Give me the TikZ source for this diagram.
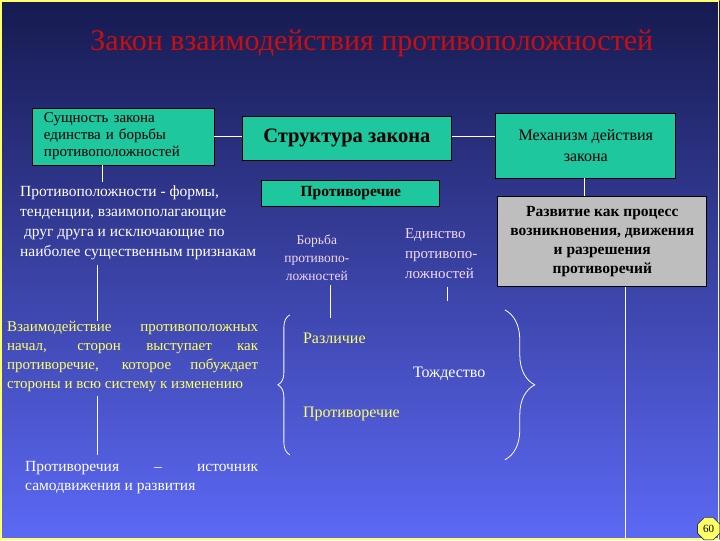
\documentclass[tikz,border=0pt]{standalone}
\usepackage{fontspec}
\setmainfont{Liberation Serif}
\usetikzlibrary{decorations.pathreplacing,shapes.geometric}
\definecolor{teal1}{HTML}{1FC79E}
\definecolor{grayb}{HTML}{BEBEBE}
\definecolor{ylw}{HTML}{FFFF66}
\definecolor{pinkw}{HTML}{F4D8F4}
\begin{document}
\begin{tikzpicture}[x=1pt,y=-1pt,
  box/.style={draw=black,fill=teal1,line width=0.8pt,inner sep=2pt},
  conn/.style={draw=white,line width=0.8pt},
  wt/.style={text=white,font=\fontsize{13}{19}\selectfont,align=left,inner sep=0},
  yt/.style={text=ylw,font=\fontsize{16}{19}\selectfont,inner sep=0}]
\shade[top color={rgb,255:red,22;green,26;blue,80},bottom color={rgb,255:red,92;green,105;blue,245}] (0,0) rectangle (720,540);
\draw[ylw,line width=1.5pt] (1,1) rectangle (719,539);
\node[text={rgb,255:red,200;green,15;blue,15},font=\fontsize{30}{34}\selectfont] (title) at (372,43) {Закон взаимодействия противоположностей};
\node[box,minimum width=182,minimum height=57,font=\fontsize{15}{17}\selectfont,align=left,text width=178,inner sep=1pt] (b1) at (123,136.5) {\hspace*{10pt}Сущность закона\\\hspace*{10pt}единства и борьбы\\\hspace*{10pt}противоположностей};
\node[box,minimum width=210,minimum height=44,font=\bfseries\fontsize{20.5}{22}\selectfont] (b2) at (347,138) {Структура закона};
\node[box,minimum width=180,minimum height=65,font=\fontsize{16}{21}\selectfont,align=center] (b3) at (586,145.5) {Механизм действия\\закона};
\node[box,minimum width=178,minimum height=26,font=\bfseries\fontsize{15.5}{17}\selectfont] (b4) at (351,193) {Противоречие};
\node[box,fill=grayb,minimum width=209,minimum height=91,font=\bfseries\fontsize{15.5}{19}\selectfont,align=center] (g) at (602.5,241.5) {Развитие как процесс\\возникновения, движения\\и разрешения\\противоречий};
\node[wt,anchor=north west,font=\fontsize{15.5}{20}\selectfont] (t1) at (20,186) {Противоположности - формы,\\тенденции, взаимополагающие\\\ друг друга и исключающие по\\наиболее существенным признакам};
\node[text=pinkw,font=\fontsize{13.5}{18}\selectfont,align=center,inner sep=0] (bor) at (317,258) {Борьба\\противопо-\\ложностей};
\node[text=pinkw,font=\fontsize{15}{20}\selectfont,align=left,inner sep=0,anchor=north west] (ed) at (405,229) {Единство\\противопо-\\ложностей};
\node[yt,anchor=north west,text width=251,align=justify,font=\fontsize{15}{19}\selectfont] (vz) at (7,321) {Взаимодействие противоположных начал, сторон выступает как противоречие, которое побуждает стороны и всю систему к изменению};
\node[yt,anchor=west] (raz) at (303,338) {Различие};
\node[text=white,font=\fontsize{16}{18}\selectfont,anchor=west,inner sep=0] (tozh) at (413,374) {Тождество};
\node[yt,anchor=west] (pr) at (303,414) {Противоречие};
\node[wt,anchor=north west,text width=233,align=justify,font=\fontsize{15.5}{19}\selectfont] (ist) at (25,461) {Противоречия~~~~~–~~~~~источник самодвижения и развития};
\node[regular polygon,regular polygon sides=8,fill=ylw,draw=black,inner sep=0,minimum size=24,font=\fontsize{11}{12}\selectfont] (pg) at (709,529) {60};
\path[conn] (b1.east|-0,136) -- (b2.west|-0,136);
\path[conn] (b2.east|-0,136) -- (b3.west|-0,136);
\path[conn] (102,165) -- (102,182);
\path[conn] (585,178) -- (g.north-|585,0);
\path[conn] (626,287) -- (626,540);
\path[conn] (97,265) -- (97,321);
\path[conn] (97,396) -- (97,455);
\path[conn] (331,285) -- (331,318);
\path[conn] (448,287) -- (448,301);
\draw[white,line width=0.8pt,decorate,decoration={brace,amplitude=12pt}] (290,455) -- (290,315);
\draw[white,line width=0.8pt,decorate,decoration={brace,amplitude=30pt}] (505,310) -- (505,460);
\end{tikzpicture}
\end{document}
